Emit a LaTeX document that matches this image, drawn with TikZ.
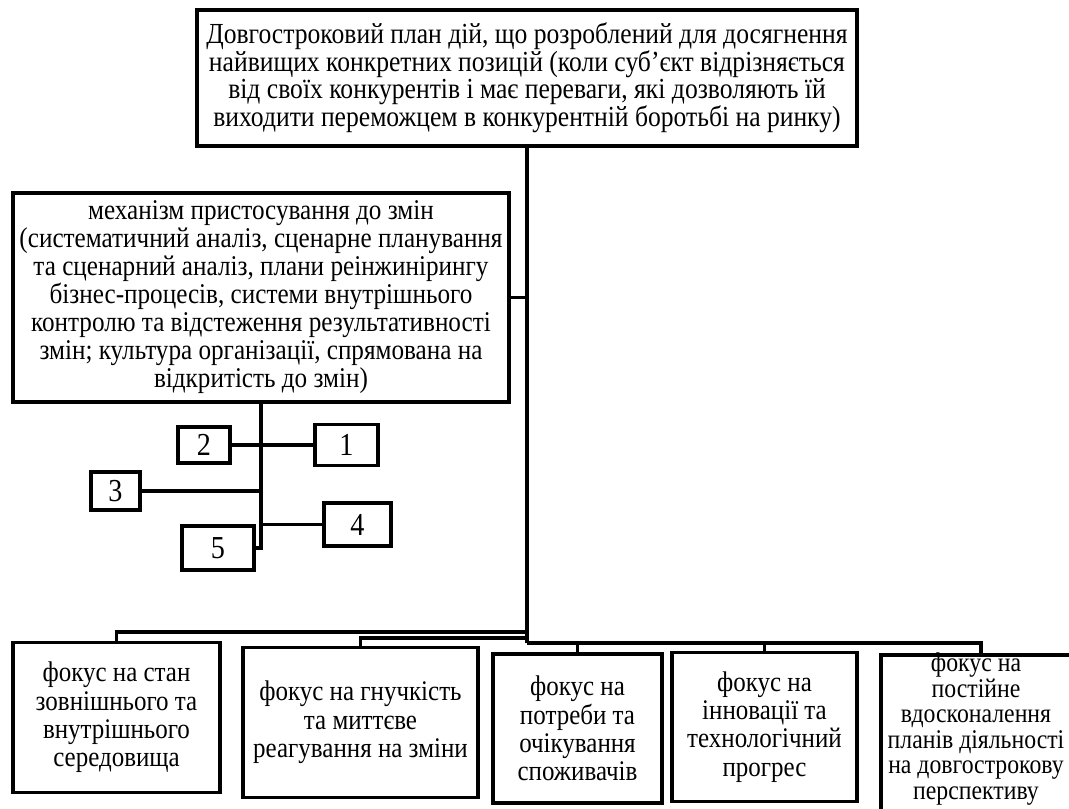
\documentclass[tikz,border=0pt]{standalone}
\usepackage{fontspec}
\setmainfont{Liberation Serif}[FakeStretch=0.88]
\begin{document}
\begin{tikzpicture}[x=1pt,y=-1pt,
  box/.style={draw, line width=3.5pt, align=center, inner sep=0pt, font=\fontsize{28.4}{28.3}\selectfont},
  numbox/.style={draw, line width=3.5pt, inner sep=0pt, font=\fontsize{32}{32}\selectfont},
  conn/.style={line width=3.5pt}]
\clip (0,0) rectangle (1069,809);
\fill[white] (0,0) rectangle (1069,809);
% top box
\node[box, font=\fontsize{29.1}{27}\selectfont, minimum width=660, minimum height=136] (top) at (527,78)
 {Довгостроковий план дій, що розроблений для досягнення\\
  найвищих конкретних позицій (коли суб’єкт відрізняється\\
  від своїх конкурентів і має переваги, які дозволяють їй\\
  виходити переможцем в конкурентній боротьбі на ринку)};
% middle box
\node[box, font=\fontsize{28.6}{28}\selectfont, minimum width=496, minimum height=209] (mid) at (261,297.5)
 {механізм пристосування до змін\\
  (систематичний аналіз, сценарне планування\\
  та сценарний аналіз, плани реінжинірингу\\
  бізнес-процесів, системи внутрішнього\\
  контролю та відстеження результативності\\
  змін; культура організації, спрямована на\\
  відкритість до змін)};
% numbered boxes
\node[numbox, minimum width=63, minimum height=41] (n1) at (346.5,445) {1};
\node[numbox, minimum width=52, minimum height=36] (n2) at (204,445) {2};
\node[numbox, minimum width=49, minimum height=38] (n3) at (115.5,491) {3};
\node[numbox, minimum width=67, minimum height=43] (n4) at (357.5,524.5) {4};
\node[numbox, minimum width=72, minimum height=44] (n5) at (218,548) {5};
% bottom boxes
\node[box, minimum width=207, minimum height=150] (A) at (116.5,717.5)
 {фокус на стан\\ зовнішнього та\\ внутрішнього\\ середовища};
\node[box, minimum width=235, minimum height=150] (B) at (360.5,722.5)
 {фокус на гнучкість\\ та миттєве\\ реагування на зміни};
\node[box, minimum width=169, minimum height=149] (C) at (577.5,728.5)
 {фокус на\\ потреби та\\ очікування\\ споживачів};
\node[box, minimum width=185, minimum height=149] (D) at (764.5,727)
 {фокус на\\ інновації та\\ технологічний\\ прогрес};
\node[draw, line width=3.5pt, minimum width=200, minimum height=174] (E) at (981,742) {};
\node[align=center, inner sep=0pt, font=\fontsize{27}{25.5}\selectfont] (Et) at (976,729)
 {фокус на\\ постійне\\ вдосконалення\\ планів діяльності\\ на довгострокову\\ перспективу};
% connectors
\coordinate (hub) at (527,643);
\coordinate (busA) at (527,632);
\coordinate (busB) at (527,638);
\draw[conn] (top.south) -- (hub);
\draw[conn] (mid.east) -- (mid.east -| top.south);
\draw[conn] (n2.east) -- (n1.west);
\draw[conn] (n3.east) -- (n3.east -| mid.south);
\draw[conn] (n4.west) -- (n4.west -| mid.south);
\draw[conn] (mid.south) -- (mid.south |- n5.east) -- (n5.east);
\draw[conn] (A.north) |- (busA);
\draw[conn] (B.north) |- (busB);
\draw[conn] (hub) -| (E.north);
\draw[conn] (C.north) -- (C.north |- hub);
\draw[conn] (D.north) -- (D.north |- hub);
\end{tikzpicture}
\end{document}
